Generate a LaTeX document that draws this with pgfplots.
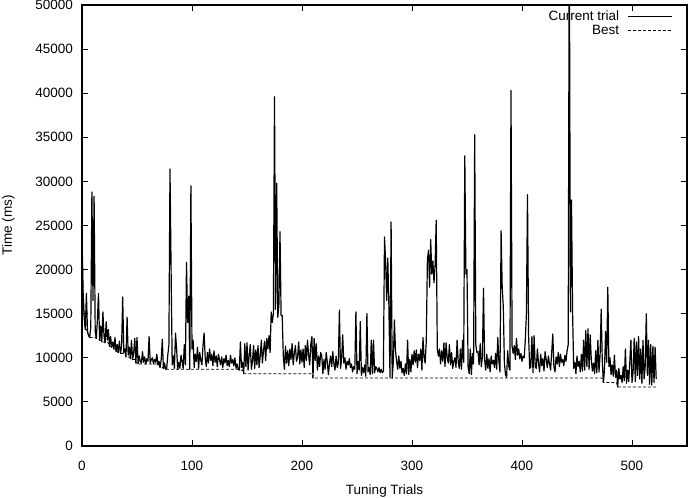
\documentclass[border=0pt]{standalone}
\usepackage{fontspec}
\setmainfont{Liberation Sans}
\usepackage{pgfplots}
\usepackage{pgfplotstable}
\pgfplotsset{compat=1.18}
\newcommand{\chartfont}{\fontsize{13.5}{16}\selectfont}

\pgfplotstableread[row sep=\\]{
x y\\
0 24000\\ 1 17500\\ 2 14500\\ 3 13200\\ 4 17300\\ 5 13000\\ 6 12500\\ 7 12300\\ 8 13500\\ 9 28800\\
10 16500\\ 11 28300\\ 12 13000\\ 13 12200\\ 14 14300\\ 15 17300\\ 16 12000\\ 17 13600\\ 18 11800\\ 19 15200\\
20 12500\\ 21 11700\\ 22 14100\\ 23 12000\\ 24 13200\\ 25 11300\\ 26 12400\\ 27 11200\\ 28 11800\\ 29 11000\\
30 12300\\ 31 10700\\ 32 11500\\ 33 10600\\ 34 11900\\ 35 10500\\ 36 11300\\ 37 16900\\ 38 10600\\ 39 11000\\
40 10100\\ 41 14600\\ 42 10300\\ 43 11200\\ 44 9900\\ 45 12000\\ 46 9800\\ 47 10600\\ 48 12200\\ 49 9400\\
50 12300\\ 51 9300\\ 52 10200\\ 53 9600\\ 54 9400\\ 55 10700\\ 56 9500\\ 57 10100\\ 58 9300\\ 59 9900\\
60 9600\\ 61 12400\\ 62 9400\\ 63 9800\\ 64 10000\\ 65 9300\\ 66 9800\\ 67 9500\\ 68 10400\\ 69 9200\\
70 9600\\ 71 8900\\ 72 9800\\ 73 12100\\ 74 8800\\ 75 9400\\ 76 8700\\ 77 8800\\ 78 10300\\ 79 11500\\
80 31400\\ 81 20000\\ 82 9200\\ 83 10200\\ 84 8800\\ 85 12800\\ 86 11000\\ 87 8700\\ 88 9500\\ 89 8800\\
90 10300\\ 91 9600\\ 92 8800\\ 93 11500\\ 94 9200\\ 95 20800\\ 96 14000\\ 97 17000\\ 98 8700\\ 99 29500\\
100 11000\\ 101 12000\\ 102 8900\\ 103 10400\\ 104 9600\\ 105 11200\\ 106 8800\\ 107 10600\\ 108 9700\\ 109 9200\\
110 11400\\ 111 12800\\ 112 10000\\ 113 9000\\ 114 10600\\ 115 9400\\ 116 11000\\ 117 9700\\ 118 10400\\ 119 9100\\
120 10800\\ 121 9500\\ 122 10200\\ 123 9000\\ 124 10400\\ 125 9800\\ 126 9200\\ 127 10100\\ 128 8900\\ 129 9900\\
130 9400\\ 131 10300\\ 132 9100\\ 133 9700\\ 134 9000\\ 135 10300\\ 136 9400\\ 137 9800\\ 138 9100\\ 139 10000\\
140 8800\\ 141 9300\\ 142 8700\\ 143 8600\\ 144 11800\\ 145 8900\\ 146 9500\\ 147 8200\\ 148 11600\\ 149 9000\\
150 11700\\ 151 8600\\ 152 10300\\ 153 11500\\ 154 8700\\ 155 9600\\ 156 11400\\ 157 8800\\ 158 10900\\ 159 9200\\
160 11400\\ 161 8900\\ 162 10200\\ 163 12000\\ 164 9400\\ 165 10800\\ 166 11900\\ 167 9700\\ 168 12200\\ 169 11000\\
170 12500\\ 171 10600\\ 172 15200\\ 173 14000\\ 174 15000\\ 175 39600\\ 176 15500\\ 177 29800\\ 178 14600\\ 179 16000\\
180 24300\\ 181 14800\\ 182 14800\\ 183 10200\\ 184 8700\\ 185 11300\\ 186 9400\\ 187 10800\\ 188 9100\\ 189 11000\\
190 9800\\ 191 11600\\ 192 9200\\ 193 10500\\ 194 11400\\ 195 9600\\ 196 10100\\ 197 11800\\ 198 9300\\ 199 10900\\
200 9500\\ 201 11000\\ 202 8900\\ 203 11400\\ 204 9700\\ 205 12000\\ 206 10300\\ 207 9200\\ 208 11500\\ 209 12400\\
210 7700\\ 211 12200\\ 212 9700\\ 213 11600\\ 214 8600\\ 215 10200\\ 216 9000\\ 217 10600\\ 218 10200\\ 219 8200\\
220 9800\\ 221 8700\\ 222 10600\\ 223 9500\\ 224 8100\\ 225 9400\\ 226 10200\\ 227 9000\\ 228 10700\\ 229 9300\\
230 8600\\ 231 10200\\ 232 8900\\ 233 9400\\ 234 15400\\ 235 8800\\ 236 9800\\ 237 12600\\ 238 9400\\ 239 10000\\
240 8700\\ 241 9600\\ 242 9200\\ 243 9900\\ 244 8900\\ 245 9300\\ 246 8400\\ 247 9000\\ 248 8700\\ 249 15200\\
250 8200\\ 251 9600\\ 252 8600\\ 253 14100\\ 254 8000\\ 255 8900\\ 256 8300\\ 257 9200\\ 258 7900\\ 259 15000\\
260 8400\\ 261 8900\\ 262 8100\\ 263 12000\\ 264 8200\\ 265 12000\\ 266 8300\\ 267 9000\\ 268 8800\\ 269 8400\\
270 8900\\ 271 8300\\ 272 8700\\ 273 8300\\ 274 8500\\ 275 23700\\ 276 21000\\ 277 16500\\ 278 21300\\ 279 15800\\
280 7800\\ 281 25400\\ 282 7700\\ 283 9500\\ 284 14300\\ 285 10800\\ 286 9600\\ 287 8700\\ 288 10200\\ 289 8800\\
290 9600\\ 291 8300\\ 292 8800\\ 293 8000\\ 294 9300\\ 295 8200\\ 296 12000\\ 297 8100\\ 298 9800\\ 299 8400\\
300 10400\\ 301 9200\\ 302 10800\\ 303 9500\\ 304 10900\\ 305 8900\\ 306 10400\\ 307 9700\\ 308 11000\\ 309 8600\\
310 12300\\ 311 10000\\ 312 9400\\ 313 12000\\ 314 21100\\ 315 22200\\ 316 18000\\ 317 23400\\ 318 19500\\ 319 21000\\
320 18500\\ 321 20500\\ 322 25600\\ 323 11000\\ 324 10200\\ 325 11000\\ 326 9300\\ 327 10800\\ 328 9600\\ 329 11700\\
330 9000\\ 331 11700\\ 332 10000\\ 333 9400\\ 334 11500\\ 335 9200\\ 336 10600\\ 337 8800\\ 338 9600\\ 339 10000\\
340 8900\\ 341 12000\\ 342 9600\\ 343 8800\\ 344 11000\\ 345 8700\\ 346 12000\\ 347 9500\\ 348 32900\\ 349 19500\\
350 20000\\ 351 9000\\ 352 8200\\ 353 11000\\ 354 8100\\ 355 10500\\ 356 9300\\ 357 35300\\ 358 11500\\ 359 10600\\
360 10700\\ 361 9200\\ 362 11600\\ 363 9000\\ 364 10100\\ 365 17900\\ 366 9800\\ 367 8600\\ 368 10400\\ 369 8800\\
370 9900\\ 371 8400\\ 372 10200\\ 373 9300\\ 374 9700\\ 375 8900\\ 376 10500\\ 377 8700\\ 378 12300\\ 379 9600\\
380 8400\\ 381 24400\\ 382 18000\\ 383 15800\\ 384 9400\\ 385 8100\\ 386 7800\\ 387 10800\\ 388 9000\\ 389 8600\\
390 40300\\ 391 11300\\ 392 10500\\ 393 11400\\ 394 9800\\ 395 12200\\ 396 10300\\ 397 11000\\ 398 9900\\ 399 10500\\
400 9600\\ 401 10200\\ 402 10000\\ 403 12000\\ 404 15000\\ 405 28500\\ 406 12500\\ 407 8800\\ 408 9000\\ 409 12400\\
410 8300\\ 411 12500\\ 412 9000\\ 413 8800\\ 414 11000\\ 415 9400\\ 416 8400\\ 417 10400\\ 418 9100\\ 419 9900\\
420 8500\\ 421 10700\\ 422 9800\\ 423 8900\\ 424 10200\\ 425 9300\\ 426 8600\\ 427 10600\\ 428 12700\\ 429 9000\\
430 8400\\ 431 10100\\ 432 9300\\ 433 10600\\ 434 9000\\ 435 10400\\ 436 9500\\ 437 9800\\ 438 9100\\ 439 10300\\
440 9600\\ 441 10800\\ 442 11500\\ 443 60000\\ 444 15200\\ 445 27900\\ 446 15000\\ 447 8800\\ 448 9500\\ 449 8200\\
450 10200\\ 451 9000\\ 452 9600\\ 453 8400\\ 454 10400\\ 455 8500\\ 456 12000\\ 457 8600\\ 458 13100\\ 459 9000\\
460 13300\\ 461 8700\\ 462 12600\\ 463 9800\\ 464 8500\\ 465 9400\\ 466 8200\\ 467 10800\\ 468 8300\\ 469 12000\\
470 8400\\ 471 10300\\ 472 15500\\ 473 9600\\ 474 7200\\ 475 8700\\ 476 13000\\ 477 9500\\ 478 18000\\ 479 9000\\
480 10000\\ 481 8100\\ 482 9200\\ 483 7900\\ 484 10300\\ 485 7800\\ 486 8600\\ 487 6700\\ 488 8800\\ 489 7600\\
490 8000\\ 491 7200\\ 492 9000\\ 493 7400\\ 494 11000\\ 495 7100\\ 496 8600\\ 497 7300\\ 498 9500\\ 499 12000\\
500 7200\\ 501 8400\\ 502 12200\\ 503 7300\\ 504 11800\\ 505 8000\\ 506 12400\\ 507 7600\\ 508 11000\\ 509 7100\\
510 12000\\ 511 7600\\ 512 9000\\ 513 15000\\ 514 8000\\ 515 12000\\ 516 7000\\ 517 11500\\ 518 6900\\ 519 11300\\
520 7200\\ 521 11200\\ 522 7600\\
}\currenttrial

\pgfplotstableread[row sep=\\]{
x y\\
0 24000\\ 1 17500\\ 2 14500\\ 3 13200\\ 4 13200\\ 5 13000\\ 6 12500\\ 7 12300\\ 12 12300\\ 13 12200\\
15 12200\\ 16 12000\\ 17 12000\\ 18 11800\\ 20 11800\\ 21 11700\\ 24 11700\\ 25 11300\\ 26 11300\\ 27 11200\\
28 11200\\ 29 11000\\ 30 11000\\ 31 10700\\ 32 10700\\ 33 10600\\ 34 10600\\ 35 10500\\ 39 10500\\ 40 10100\\
43 10100\\ 44 9900\\ 45 9900\\ 46 9800\\ 48 9800\\ 49 9400\\ 50 9400\\ 51 9300\\ 68 9300\\ 69 9200\\
70 9200\\ 71 8900\\ 73 8900\\ 74 8800\\ 75 8800\\ 76 8700\\ 142 8700\\ 143 8600\\ 146 8600\\ 147 8200\\
209 8200\\ 210 7700\\ 473 7700\\ 474 7200\\ 486 7200\\ 487 6700\\ 522 6700\\
}\besttrial

\begin{document}
\begin{tikzpicture}
\useasboundingbox (-82pt,-52pt) rectangle (612pt,446pt);
\begin{axis}[
  scale only axis,
  width=605pt, height=441pt,
  xmin=0, xmax=550, ymin=0, ymax=50000,
  xtick={0,100,...,500},
  ytick={0,5000,...,50000},
  scaled ticks=false,
  /pgf/number format/1000 sep={},
  /pgf/number format/assume math mode=true,
  tick align=inside,
  major tick length=6pt,
  axis line style={line width=1.1pt},
  every tick/.style={line width=0.9pt, black},
  tick label style={font=\chartfont, text=black},
  xticklabel style={anchor=center, inner sep=0pt, yshift=-20pt},
  yticklabel style={anchor=east, inner sep=0pt, xshift=-9pt},
  xlabel={Tuning Trials},
  ylabel={Time (ms)},
  every axis x label/.style={at={(axis description cs:0.5,-0.102)}, anchor=center, font=\chartfont},
  every axis y label/.style={at={(axis description cs:-0.1215,0.5)}, anchor=center, rotate=90, font=\chartfont},
  legend plot pos=right,
  legend cell align=right,
  legend style={draw=none, fill=none, font=\chartfont, at={(rel axis cs:1,1)}, anchor=north east,
    xshift=-14pt, yshift=-4pt, row sep=-1pt, inner sep=0pt},
  legend image code/.code={\path[draw=none, fill=none] (0pt,-1pt) rectangle (1pt,1pt); \draw[#1] (7pt,0pt) -- (51pt,0pt);},
]
\addplot[black, line width=1.2pt, line join=round] table[x=x, y=y] {\currenttrial};
\addlegendentry{Current trial}
\addplot[black, line width=0.8pt, dash pattern=on 3pt off 2pt] table[x=x, y=y] {\besttrial};
\addlegendentry{Best}
\end{axis}
\end{tikzpicture}
\end{document}
